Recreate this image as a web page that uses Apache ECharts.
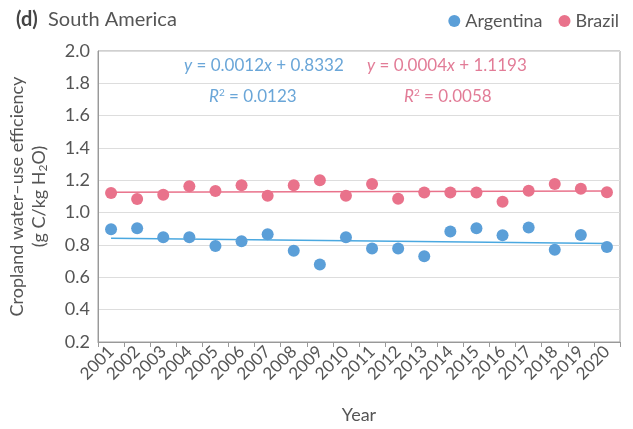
<!DOCTYPE html>
<html><head><meta charset="utf-8">
<script src="https://cdn.jsdelivr.net/npm/echarts@6/dist/echarts.min.js"></script>
<style>html,body{margin:0;padding:0;background:#fff}#c{width:633px;height:429px}</style>
</head><body><div id="c"></div>
<script>
const years = ['2001','2002','2003','2004','2005','2006','2007','2008','2009','2010','2011','2012','2013','2014','2015','2016','2017','2018','2019','2020'];
const argentina = [0.897,0.904,0.848,0.848,0.794,0.823,0.866,0.765,0.680,0.848,0.779,0.779,0.730,0.883,0.904,0.860,0.908,0.771,0.862,0.788];
const brazil = [1.121,1.084,1.111,1.163,1.134,1.169,1.105,1.169,1.200,1.105,1.177,1.086,1.125,1.125,1.125,1.067,1.136,1.177,1.148,1.127];
const argTrend = [0.842, 0.810];
const braTrend = [1.127, 1.134];

const BLUE = '#5b9fd8', PINK = '#e9728b';
const BLUE_T = '#6aa6d8', PINK_T = '#e27c97';
const FONT = 'Lato, sans-serif';

const chart = echarts.init(document.getElementById('c'), null, {renderer:'canvas'});
chart.setOption({
  animation:false,
  textStyle:{fontFamily:FONT},
  grid:{left:98, right:13, top:51, bottom:87, show:true, borderColor:'#a0a0a0', borderWidth:1},
  legend:{
    right:9, top:7, itemWidth:12, itemHeight:12, itemGap:16,
    data:[{name:'Argentina', icon:'circle'},{name:'Brazil', icon:'circle'}],
    textStyle:{fontSize:18, color:'#555', fontFamily:FONT, padding:[0,0,0,0]}
  },
  title:{text:'{b|(d)}  South America', left:11, top:5,
    textStyle:{fontSize:20, fontWeight:'normal', color:'#555', fontFamily:FONT,
      rich:{b:{fontSize:20, fontWeight:'bold', color:'#444', fontFamily:FONT}}}},
  xAxis:{
    type:'category', data:years, boundaryGap:true,
    name:'Year', nameLocation:'middle', nameGap:64,
    nameTextStyle:{fontSize:18, color:'#555'},
    axisLine:{lineStyle:{color:'#999'}},
    axisTick:{show:true, length:5, lineStyle:{color:'#999'}},
    axisLabel:{rotate:45, fontSize:17, color:'#555', margin:7, interval:0}
  },
  yAxis:{
    type:'value', min:0.2, max:2.0, interval:0.2,
    axisLabel:{fontSize:18, color:'#555', formatter:v=>v.toFixed(1), margin:8},
    axisLine:{show:true, lineStyle:{color:'#999'}},
    axisTick:{show:false},
    splitLine:{lineStyle:{color:'#ddd'}},
    name:'{a|Cropland water–use efficiency}\n{a|(g C/kg H}{s|2}{a|O)}',
    nameLocation:'middle', nameGap:48, nameRotate:90,
    nameTextStyle:{rich:{a:{fontSize:18, color:'#555', lineHeight:22, fontFamily:FONT}, s:{fontSize:12, color:'#555', lineHeight:22, padding:[9,0,0,0], fontFamily:FONT}}}
  },
  series:[
    {name:'Argentina', type:'scatter', data:argentina, symbolSize:12, itemStyle:{color:BLUE, opacity:1}, z:3},
    {name:'Brazil', type:'scatter', data:brazil, symbolSize:12, itemStyle:{color:PINK, opacity:1}, z:3},
    {name:'argTrend', type:'line', data:[[years[0],argTrend[0]],[years[years.length-1],argTrend[1]]], symbol:'none', lineStyle:{color:'#4aa8e0', width:1.5}, z:2, silent:true},
    {name:'braTrend', type:'line', data:[[years[0],braTrend[0]],[years[years.length-1],braTrend[1]]], symbol:'none', lineStyle:{color:PINK, width:1.5}, z:2, silent:true}
  ],
  graphic:[
    {type:'text', left:184, top:57, style:{text:'{i|y} = 0.0012{i|x} + 0.8332', rich:{i:{fontStyle:'italic', fontSize:17, fill:BLUE_T, fontFamily:FONT}}, fill:BLUE_T, font:'17px Lato'}},
    {type:'text', left:209, top:88, style:{text:'{i|R}{s|2} = 0.0123', rich:{i:{fontStyle:'italic', fontSize:17, fill:BLUE_T, fontFamily:FONT}, s:{fontSize:10, fill:BLUE_T, verticalAlign:'top', fontFamily:FONT}}, fill:BLUE_T, font:'17px Lato'}},
    {type:'text', left:367, top:57, style:{text:'{i|y} = 0.0004{i|x} + 1.1193', rich:{i:{fontStyle:'italic', fontSize:17, fill:PINK_T, fontFamily:FONT}}, fill:PINK_T, font:'17px Lato'}},
    {type:'text', left:404, top:88, style:{text:'{i|R}{s|2} = 0.0058', rich:{i:{fontStyle:'italic', fontSize:17, fill:PINK_T, fontFamily:FONT}, s:{fontSize:10, fill:PINK_T, verticalAlign:'top', fontFamily:FONT}}, fill:PINK_T, font:'17px Lato'}}
  ]
});
</script></body></html>
